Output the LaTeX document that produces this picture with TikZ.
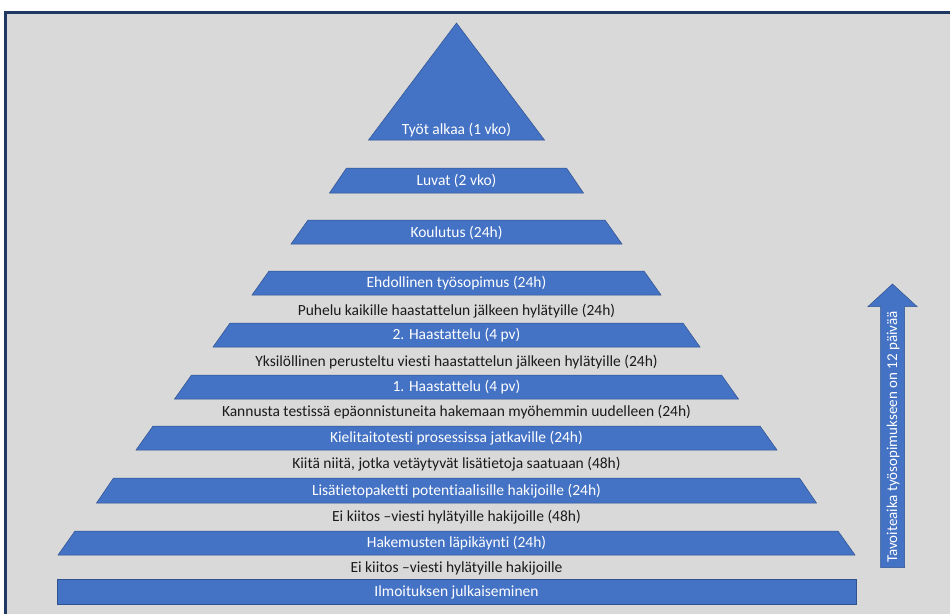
\documentclass[tikz,border=0pt]{standalone}
\usepackage{fontspec}
\setmainfont{Carlito}[Ligatures={NoCommon,NoContextual}]
\definecolor{bgray}{HTML}{D9D9D9}
\definecolor{navy}{HTML}{1F3864}
\definecolor{tblue}{HTML}{4472C4}
\definecolor{tedge}{HTML}{2F528F}
\definecolor{dtext}{HTML}{1A1A1A}
\tikzset{
  tierfill/.style={fill=tblue, draw=tedge, line width=0.5pt, line join=miter},
  whitetext/.style={text=white, font=\fontsize{15.5}{17}\selectfont, inner sep=0pt},
  darktext/.style={text=dtext, font=\fontsize{15.5}{17}\selectfont, inner sep=0pt},
}
% name, top y, bottom y, bottom half width, text
\newcommand\tierbox[5]{%
  \path[tierfill] ({456.5-#4},#3) -- ({456.5-#4+17},#2) -- ({456.5+#4-17},#2) -- ({456.5+#4},#3) -- cycle;
  \node[whitetext] (#1) at (456.5,{(#2+#3)/2+0.5}) {#5};}
\begin{document}
\begin{tikzpicture}[x=1pt,y=-1pt]
\useasboundingbox (0,0) rectangle (950,613);
\clip (0,0) rectangle (950,613);
\fill[white] (0,0) rectangle (950,613);
\draw[fill=bgray, draw=navy, line width=3pt] (5.5,12.5) rectangle (970,640);
% top triangle
\path[tierfill] (456.5,23) -- (544.5,140) -- (368.5,140) -- cycle;
\node[whitetext] (t9) at (456.5,130) {Työt alkaa (1 vko)};
\tierbox{t8}{168}{193}{127}{Luvat (2 vko)}
\tierbox{t7}{220}{244}{165.5}{Koulutus (24h)}
\tierbox{t6}{271}{295}{204.5}{Ehdollinen työsopimus (24h)}
\node[darktext] (m6) at (456.5,311) {Puhelu kaikille haastattelun jälkeen hylätyille (24h)};
\tierbox{t5}{323}{347}{243.5}{2. Haastattelu (4 pv)}
\node[darktext] (m5) at (456.5,362) {Yksilöllinen perusteltu viesti haastattelun jälkeen hylätyille (24h)};
\tierbox{t4}{375}{399}{282}{1. Haastattelu (4 pv)}
\node[darktext] (m4) at (456.5,412) {Kannusta testissä epäonnistuneita hakemaan myöhemmin uudelleen (24h)};
\tierbox{t3}{426}{450}{320.5}{Kielitaitotesti prosessissa jatkaville (24h)}
\node[darktext] (m3) at (456.5,464) {Kiitä niitä, jotka vetäytyvät lisätietoja saatuaan (48h)};
\tierbox{t2}{478}{503}{360}{Lisätietopaketti potentiaalisille hakijoille (24h)}
\node[darktext] (m2) at (456.5,517) {Ei kiitos –viesti hylätyille hakijoille (48h)};
\tierbox{t1}{531}{555}{398.5}{Hakemusten läpikäynti (24h)}
\node[darktext] (m1) at (456.5,568) {Ei kiitos –viesti hylätyille hakijoille};
\path[tierfill] (57,579) rectangle (856,604);
\node[whitetext] (t0) at (456.5,592) {Ilmoituksen julkaiseminen};
% arrow
\path[tierfill] (880.5,567.5) -- (880.5,306.5) -- (868,306.5) -- (892.5,284) -- (917,306.5) -- (904.5,306.5) -- (904.5,567.5) -- cycle;
\node[whitetext, font=\fontsize{15}{17}\selectfont, rotate=90] (arr) at (893,437) {Tavoiteaika työsopimukseen on 12 päivää};
\end{tikzpicture}
\end{document}
